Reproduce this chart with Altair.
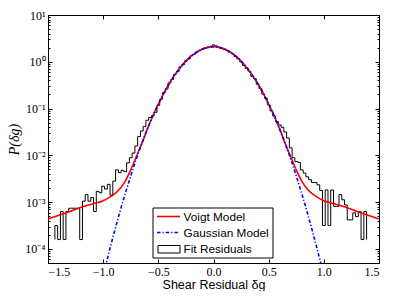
import altair as alt
import pandas as pd

# ---- data ----
# Step histogram of fit residuals: first bin edge, bin width, log10 density per bin
hist_lo = -1.4375
hist_bw = 0.025
hist_floor_log10 = -3.80
hist_log10 = [
    -3.50, -3.80, -3.20, -3.80, -3.20, -3.13, -3.13, -3.13, -3.13, -3.80,
    -2.98, -2.84, -2.98, -2.90, -3.20, -2.77, -2.80, -2.66, -2.72, -2.62,
    -2.85, -2.55, -2.31, -2.37, -2.32, -2.35, -2.16, -2.05, -1.95, -1.80,
    -1.60, -1.48, -1.38, -1.25, -1.19, -1.15, -1.08,
    -0.93, -0.80, -0.66, -0.58, -0.45, -0.38, -0.27, -0.21, -0.11, -0.06,
    0.02, 0.06, 0.13, 0.16, 0.21, 0.24, 0.27, 0.29, 0.31, 0.33,
    0.36, 0.34, 0.31, 0.29, 0.26, 0.24, 0.20, 0.17, 0.11, 0.06,
    0.00, -0.08, -0.14, -0.20, -0.31, -0.36, -0.48, -0.57, -0.69, -0.78,
    -0.92, -1.05, -1.16, -1.28, -1.35,
    -1.40, -1.50, -1.63, -1.84, -2.05, -2.13, -2.15, -2.31, -2.38, -2.46,
    -2.52, -2.58, -2.58, -2.63, -2.75, -3.50, -2.74, -3.50, -2.74, -3.09,
    -3.09, -2.84, -2.95, -3.06, -3.38, -3.38, -3.23, -3.31, -3.20, -3.80,
    -3.20,
]

gauss_x = [-1.0, -0.95, -0.9, -0.85, -0.8, -0.75, -0.7, -0.65, -0.6, -0.55,
           -0.5, -0.45, -0.4, -0.35, -0.3, -0.25, -0.2, -0.15, -0.1, -0.05,
           0.0, 0.05, 0.1, 0.15, 0.2, 0.25, 0.3, 0.35, 0.4, 0.45,
           0.5, 0.55, 0.6, 0.65, 0.7, 0.75, 0.8, 0.85, 0.9, 0.95, 1.0]
gauss_log10 = [-4.58, -4.10, -3.65, -3.22, -2.82, -2.44, -2.08, -1.75, -1.44, -1.16,
               -0.905, -0.672, -0.464, -0.280, -0.121, 0.014, 0.124, 0.210, 0.271, 0.308,
               0.32, 0.308, 0.271, 0.210, 0.124, 0.014, -0.121, -0.280, -0.464, -0.672,
               -0.905, -1.16, -1.44, -1.75, -2.08, -2.44, -2.82, -3.22, -3.65, -4.10, -4.58]

voigt_x = [-1.5, -1.4, -1.3, -1.2, -1.1, -1.0, -0.95, -0.9, -0.85, -0.8, -0.75, -0.7,
           -0.65, -0.6, -0.55, -0.5, -0.45, -0.4, -0.35, -0.3, -0.25, -0.2, -0.15, -0.1,
           -0.05, 0.0, 0.05, 0.1, 0.15, 0.2, 0.25, 0.3, 0.35, 0.4, 0.45, 0.5, 0.55, 0.6,
           0.65, 0.7, 0.75, 0.8, 0.85, 0.9, 0.95, 1.0, 1.1, 1.2, 1.3, 1.4, 1.5]
voigt_log10 = [-3.36, -3.28, -3.20, -3.11, -3.04, -2.97, -2.91, -2.83, -2.72, -2.55, -2.31, -2.03,
               -1.75, -1.44, -1.16, -0.905, -0.672, -0.464, -0.280, -0.121, 0.014, 0.124, 0.210, 0.271,
               0.308, 0.32, 0.308, 0.271, 0.210, 0.124, 0.014, -0.121, -0.280, -0.464, -0.672, -0.905, -1.16, -1.44,
               -1.75, -2.03, -2.31, -2.55, -2.72, -2.83, -2.91, -2.97, -3.04, -3.11, -3.20, -3.28, -3.36]

x_ticks = [-1.5, -1.0, -0.5, 0.0, 0.5, 1.0, 1.5]
y_major = [1e-4, 1e-3, 1e-2, 1e-1, 1.0, 10.0]
y_minor = [round(m * 10.0 ** e, 8) for e in range(-5, 1) for m in range(2, 10)]
y_minor = [v for v in y_minor if 5e-5 <= v <= 10]
legend_labels = ["Voigt Model", "Gaussian Model", "Fit Residuals"]

# ---- tables ----
nb = len(hist_log10)
edges = [hist_lo + hist_bw * k for k in range(nb + 1)]
rows = [{"x": edges[0], "p": 10 ** hist_floor_log10, "o": 0}]
for k in range(nb):
    rows.append({"x": edges[k], "p": 10 ** hist_log10[k], "o": k + 1})
rows.append({"x": edges[nb], "p": 10 ** hist_log10[-1], "o": nb + 1})
rows.append({"x": edges[nb], "p": 10 ** hist_floor_log10, "o": nb + 2})
hist_df = pd.DataFrame(rows)
gauss_df = pd.DataFrame({"x": gauss_x, "p": [10 ** v for v in gauss_log10]})
voigt_df = pd.DataFrame({"x": voigt_x, "p": [10 ** v for v in voigt_log10]})

W, H = 331, 248
xs = alt.Scale(domain=[-1.5, 1.5], nice=False, zero=False)
ys = alt.Scale(type="log", domain=[5e-5, 10], nice=False)
serif = "Liberation Serif"
sans = "Liberation Sans"
gdash = [3.5, 2, 1.2, 2]

lab_expr = ("datum.value >= 5 ? '10¹' : datum.value >= 0.5 ? '10⁰' : datum.value >= 0.05 ? '10⁻¹' : "
            "datum.value >= 0.005 ? '10⁻²' : datum.value >= 0.0005 ? '10⁻³' : '10⁻⁴'")


def tick_axis(orient, values, size):
    return alt.Axis(orient=orient, offset=-(H if orient in ("top", "bottom") else W),
                    values=values, labels=False, ticks=True, tickSize=size, domain=False,
                    grid=False, tickColor="black", tickWidth=1)


hist = alt.Chart(hist_df).mark_line(interpolate="step-after", color="black", strokeWidth=1, clip=True).encode(
    x=alt.X("x:Q", scale=xs, title="Shear Residual δg",
            axis=alt.Axis(orient="bottom", values=x_ticks, format=".1f", ticks=False, domain=False,
                          labelFont=serif, labelFontSize=12, labelPadding=3, labelColor="black",
                          titleFont=sans, titleFontSize=12.5, titleFontWeight="normal",
                          titleColor="black", titlePadding=1.5)),
    y=alt.Y("p:Q", scale=ys, title="P(δg)",
            axis=alt.Axis(orient="left", values=y_major, labelExpr=lab_expr, ticks=False, domain=False,
                          labelFont=serif, labelFontSize=12, labelPadding=3, labelColor="black",
                          titleFont=serif, titleFontStyle="italic", titleFontSize=14,
                          titleFontWeight="normal", titleColor="black", titlePadding=3)),
    order="o:Q",
)

voigt = alt.Chart(voigt_df).mark_line(color="#ff0000", strokeWidth=1.6, interpolate="monotone", clip=True).encode(
    x=alt.X("x:Q", scale=xs, title=None, axis=tick_axis("top", x_ticks, 4)),
    y=alt.Y("p:Q", scale=ys, title=None, axis=tick_axis("right", y_major, 4)),
)

gauss = alt.Chart(gauss_df).mark_line(color="#0000ff", strokeWidth=1.6, strokeDash=gdash,
                                      interpolate="monotone", clip=True).encode(
    x=alt.X("x:Q", scale=xs, title=None, axis=tick_axis("bottom", x_ticks, 4)),
    y=alt.Y("p:Q", scale=ys, title=None, axis=tick_axis("left", y_major, 4)),
)

minor_l = alt.Chart(voigt_df).mark_point(opacity=0).encode(
    x=alt.X("x:Q", scale=xs, axis=None),
    y=alt.Y("p:Q", scale=ys, title=None, axis=tick_axis("right", y_minor, 2)),
)
minor_r = alt.Chart(voigt_df).mark_point(opacity=0).encode(
    x=alt.X("x:Q", scale=xs, axis=None),
    y=alt.Y("p:Q", scale=ys, title=None, axis=tick_axis("left", y_minor, 2)),
)

# ---- legend (drawn inside the plot, lower centre) ----
one = pd.DataFrame({"d": [0]})
lx0, lx1, ly0, ly1 = 105, 225, 193, 243
leg_box = alt.Chart(one).mark_rect(fill="white", stroke="black", strokeWidth=1).encode(
    x=alt.value(lx0), x2=alt.value(lx1), y=alt.value(ly0), y2=alt.value(ly1))
leg_v = alt.Chart(one).mark_rule(color="#ff0000", strokeWidth=1.6).encode(
    x=alt.value(109), x2=alt.value(132), y=alt.value(201.5))
leg_g = alt.Chart(one).mark_rule(color="#0000ff", strokeWidth=1.6, strokeDash=gdash).encode(
    x=alt.value(109), x2=alt.value(132), y=alt.value(217.5))
leg_h = alt.Chart(one).mark_rect(fill="white", stroke="black", strokeWidth=1).encode(
    x=alt.value(110), x2=alt.value(132), y=alt.value(230.5), y2=alt.value(238))
leg_txt = [
    alt.Chart(one).mark_text(text=t, align="left", baseline="middle", font=sans, fontSize=11.8,
                             color="black").encode(x=alt.value(135.5), y=alt.value(yy))
    for t, yy in zip(legend_labels, [201.5, 217.5, 234])
]

chart = alt.layer(hist, voigt, gauss, minor_l, minor_r, leg_box, leg_v, leg_g, leg_h, *leg_txt).resolve_axis(
    x="independent", y="independent"
).properties(
    width=W, height=H,
    autosize=alt.AutoSizeParams(type="none"),
    padding={"left": 40, "top": 7, "right": 12, "bottom": 28},
).configure_view(stroke="black", strokeWidth=1).configure_axis(grid=False)

chart.save("out.html", embed_options={"renderer": "svg", "actions": False})
